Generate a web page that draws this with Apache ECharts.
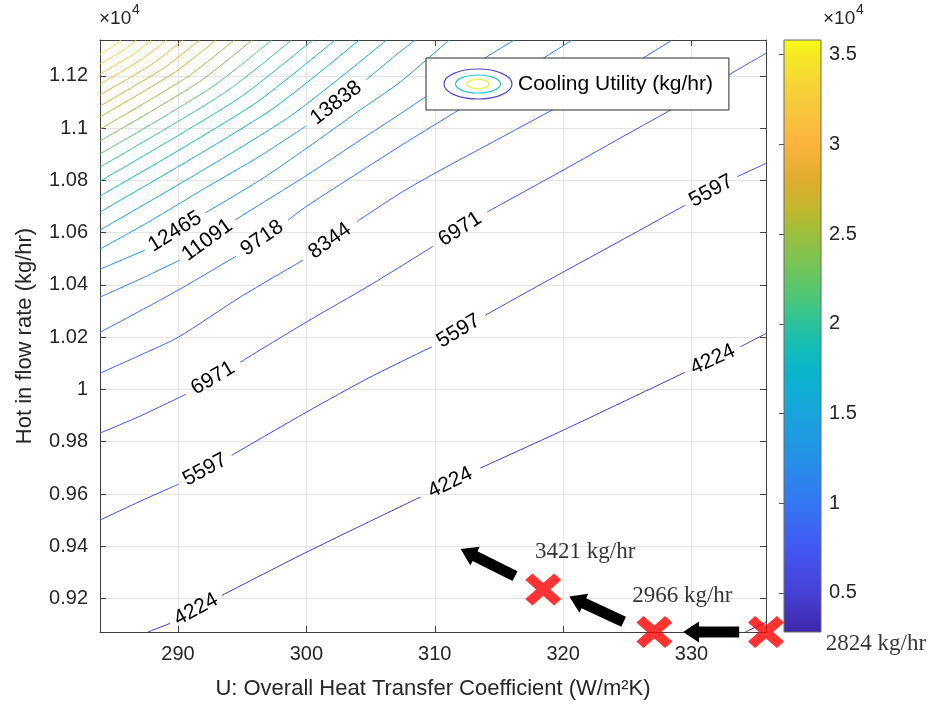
<!DOCTYPE html>
<html>
<head>
<meta charset="utf-8">
<script src="https://cdn.jsdelivr.net/npm/echarts@6.0.0/dist/echarts.min.js"></script>
<style>
html,body{margin:0;padding:0;background:#ffffff;}
#chart{width:930px;height:712px;}
</style>
</head>
<body>
<div id="chart"></div>
<script>
// ---------------- data ----------------
const uRange = [283.92, 335.8];          // U axis extent (W/m2K)
const flowRange = [9072, 11337];          // hot inlet flow extent (kg/hr)
const utilityRange = [2824, 35812];       // colour scale extent (kg/hr)

const xTickValues = [290, 300, 310, 320, 330];
const xTickLabels = ['290', '300', '310', '320', '330'];
const yTickValues = [9200, 9400, 9600, 9800, 10000, 10200, 10400, 10600, 10800, 11000, 11200];
const yTickLabels = ['0.92', '0.94', '0.96', '0.98', '1', '1.02', '1.04', '1.06', '1.08', '1.1', '1.12'];
const cTickValues = [5000, 10000, 15000, 20000, 25000, 30000, 35000];
const cTickLabels = ['0.5', '1', '1.5', '2', '2.5', '3', '3.5'];

const levels = [2851, 4224, 5597, 6971, 8344, 9718, 11091, 12465, 13838, 15212, 16585, 17959,
  19332, 20706, 22079, 23453, 24826, 26200, 27573, 28947, 30320, 31694, 33067, 34441];

// contour lines as [U, flow] points; null = gap where the inline label sits
const line00 = [[334.19, 9072], [335.8, 9109]];
const line01 = [[287.66, 9072], [289.38, 9105], null, [293.41, 9212], [300.03, 9378], [308.86, 9588], null,
  [313.54, 9699], [320.0, 9844], [329.51, 10066], null, [333.8, 10163], [335.8, 10214]];
const line02 = [[283.92, 9500], [287.04, 9572], [290.02, 9637], null, [294.18, 9748], [300.03, 9914], [304.96, 10047],
  [309.77, 10163], null, [313.93, 10284], [318.84, 10418], [323.13, 10533], [329.51, 10705], null, [333.54, 10814], [335.8, 10865]];
const line03 = [[283.92, 9833], [287.04, 9898], [290.62, 9982], null, [294.83, 10104], [300.03, 10259], [304.96, 10399],
  [309.87, 10548], null, [314.08, 10679], [320.0, 10839], [324.45, 10962], [328.35, 11069], [333.54, 11222], [335.8, 11286]];
const line04 = [[283.92, 10062], [287.04, 10131], [290.02, 10200], [294.83, 10353], [299.74, 10495], null,
  [303.93, 10642], [307.30, 10751], [310.03, 10828], [315.10, 10962], [320.0, 11092], [324.45, 11215], [328.5, 11337]];
const line05 = [[283.92, 10219], [285.71, 10265], [290.15, 10384], [294.52, 10510], null, [298.57, 10648],
  [300.05, 10702], [307.30, 10931], [312.76, 11096], [318.21, 11260], [320.71, 11337]];
const line06 = [[283.92, 10353], [287.04, 10422], [290.15, 10495], null, [294.42, 10648], [300.05, 10820],
  [304.18, 10954], [307.30, 11054], [310.42, 11157], [313.54, 11257], [316.19, 11337]];
const line07 = [[283.92, 10460], [287.43, 10533], null, [292.10, 10675], [296.39, 10801], [300.05, 10924],
  [304.18, 11069], [307.30, 11176], [311.12, 11337]];
const line08 = [[283.92, 10537], [287.82, 10644], [292.10, 10770], [296.39, 10893], [299.97, 11008], null,
  [304.65, 11184], [306.68, 11268], [308.47, 11337]];
const line09 = [[283.92, 10610], [291.36, 10822], [298.52, 11038], [302.76, 11198], [306.24, 11337]];
const line10 = [[283.92, 10679], [290.65, 10871], [297.14, 11066], [300.98, 11211], [304.12, 11337]];
const line11 = [[283.92, 10740], [290.02, 10914], [295.90, 11091], [299.39, 11223], [302.23, 11337]];
const line12 = [[283.92, 10797], [289.44, 10955], [294.76, 11115], [297.91, 11234], [300.49, 11337]];
const line13 = [[283.92, 10851], [288.89, 10993], [293.68, 11137], [296.52, 11244], [298.85, 11337]];
const line14 = [[283.92, 10901], [288.38, 11028], [292.67, 11158], [295.22, 11254], [297.30, 11337]];
const line15 = [[283.92, 10951], [287.87, 11063], [291.68, 11178], [293.93, 11263], [295.78, 11337]];
const line16 = [[283.92, 10996], [287.40, 11096], [290.76, 11197], [292.75, 11272], [294.38, 11337]];
const line17 = [[283.92, 11043], [286.93, 11129], [289.83, 11216], [291.55, 11281], [292.95, 11337]];
const line18 = [[283.92, 11084], [286.50, 11158], [288.99, 11233], [290.47, 11289], [291.68, 11337]];
const line19 = [[283.92, 11127], [286.07, 11188], [288.14, 11250], [289.37, 11297], [290.38, 11337]];
const line20 = [[283.92, 11168], [285.65, 11218], [287.31, 11268], [288.29, 11305], [289.10, 11337]];
const line21 = [[283.92, 11207], [285.25, 11245], [286.54, 11283], [287.30, 11312], [287.92, 11337]];
const line22 = [[283.92, 11245], [284.86, 11272], [285.77, 11299], [286.30, 11319], [286.74, 11337]];
const line23 = [[283.92, 11283], [284.47, 11299], [285.00, 11315], [285.31, 11327], [285.56, 11337]];
const contours = [line00, line01, line02, line03, line04, line05, line06, line07, line08, line09, line10, line11,
  line12, line13, line14, line15, line16, line17, line18, line19, line20, line21, line22, line23];

const markerU = [318.45, 327.1, 335.8];
const markerFlow = [9235, 9072, 9072];
const markerText = ['3421 kg/hr', '2966 kg/hr', '2824 kg/hr'];

const arrowFromU = [333.71, 324.71, 316.25];
const arrowFromFlow = [9072, 9111, 9286];
const arrowToU = [329.34, 320.48, 312.02];
const arrowToFlow = [9072, 9208, 9390];

// ---------------- styles ----------------
const legendName = 'Cooling Utility (kg/hr)';
const SANS = "'Liberation Sans', Arial, Helvetica, sans-serif";
const SERIF = "'Liberation Serif', 'Times New Roman', serif";
const AXIS_COLOR = '#404040';
const TEXT_COLOR = '#262626';
const markerLabelOffsets = [[42, -37], [28, -36], [110, 12]];

const parula = [
  [0.000, '#3e26a8'], [0.066, '#4640d6'], [0.145, '#4259f3'], [0.218, '#3377f3'],
  [0.290, '#2590e8'], [0.369, '#19a4dc'], [0.439, '#09b4cb'], [0.475, '#12bcbc'],
  [0.521, '#2ac39b'], [0.560, '#48c77b'], [0.612, '#70c55a'], [0.672, '#9dbf3c'],
  [0.712, '#c0b82d'], [0.763, '#e0ac2d'], [0.824, '#fcb53d'], [0.897, '#f7ca3c'],
  [0.969, '#f5e628'], [1.000, '#f9fb14']
];
function hexToRgb(h) { return [parseInt(h.slice(1, 3), 16), parseInt(h.slice(3, 5), 16), parseInt(h.slice(5, 7), 16)]; }
function parulaAt(t) {
  t = Math.max(0, Math.min(1, t));
  for (let i = 1; i < parula.length; i++) {
    if (t <= parula[i][0]) {
      const t0 = parula[i - 1][0], t1 = parula[i][0];
      const a = hexToRgb(parula[i - 1][1]), b = hexToRgb(parula[i][1]);
      const f = (t - t0) / (t1 - t0);
      return 'rgb(' + a.map((v, k) => Math.round(v + (b[k] - v) * f)).join(',') + ')';
    }
  }
  return parula[parula.length - 1][1];
}
function levelColor(v) { return parulaAt((v - utilityRange[0]) / (utilityRange[1] - utilityRange[0])); }
function lookup(values, labels) {
  return function (v) { const i = values.indexOf(Math.round(v)); return i < 0 ? '' : labels[i]; };
}

const legendIcon = 'image://data:image/svg+xml;charset=utf-8,' + encodeURIComponent(
  "<svg xmlns='http://www.w3.org/2000/svg' width='70' height='32' viewBox='0 0 70 32'>" +
  "<ellipse cx='35' cy='16' rx='34' ry='15' fill='none' stroke='#5a48c4' stroke-width='1.2'/>" +
  "<ellipse cx='35' cy='16' rx='22.5' ry='9' fill='none' stroke='#2ec4c4' stroke-width='1.2'/>" +
  "<ellipse cx='35' cy='16' rx='11' ry='4.5' fill='none' stroke='#eeee22' stroke-width='1.2'/>" +
  "</svg>");

const xPath = 'path://M0,2 L2,0 L5,3 L8,0 L10,2 L7,5 L10,8 L8,10 L5,7 L2,10 L0,8 L3,5 Z';

// ---------------- series ----------------
const series = [];
contours.forEach(function (pts, i) {
  const col = levelColor(levels[i]);
  series.push({
    type: 'line', name: legendName, xAxisIndex: 0, yAxisIndex: 0,
    data: pts.map(p => (p ? p : ['-', '-'])),
    showSymbol: false, symbol: 'none', smooth: 0.25, connectNulls: false,
    lineStyle: { color: col, width: 1 }, itemStyle: { color: col },
    silent: true, z: 2, animation: false
  });
});
series.push({
  id: 'clabels', type: 'scatter', xAxisIndex: 0, yAxisIndex: 0, data: [],
  symbolSize: 0, itemStyle: { color: '#000000' }, silent: true, z: 3,
  label: { show: true, position: 'inside', formatter: '{b}', fontFamily: SANS, fontSize: 21,
    color: '#000000', opacity: 1, textBorderWidth: 0, textBorderColor: 'transparent' }
});
series.push({
  type: 'custom', xAxisIndex: 0, yAxisIndex: 0, clip: false, silent: true, z: 5,
  data: arrowFromU.map((u, i) => [u, arrowFromFlow[i], arrowToU[i], arrowToFlow[i]]),
  encode: { x: [0, 2], y: [1, 3] },
  renderItem: function (params, api) {
    const t = api.coord([api.value(0), api.value(1)]);
    const h = api.coord([api.value(2), api.value(3)]);
    const dx = h[0] - t[0], dy = h[1] - t[1], L = Math.hypot(dx, dy);
    const ux = dx / L, uy = dy / L, nx = -uy, ny = ux;
    const sw = 5.5, hw = 10.5, hl = 16;
    const bx = h[0] - ux * hl, by = h[1] - uy * hl;
    return {
      type: 'polygon',
      shape: { points: [
        [t[0] + nx * sw, t[1] + ny * sw], [bx + nx * sw, by + ny * sw], [bx + nx * hw, by + ny * hw],
        [h[0], h[1]], [bx - nx * hw, by - ny * hw], [bx - nx * sw, by - ny * sw], [t[0] - nx * sw, t[1] - ny * sw]
      ] },
      style: { fill: '#000000' }
    };
  }
});
series.push({
  type: 'scatter', xAxisIndex: 0, yAxisIndex: 0, clip: false, silent: true, z: 6,
  symbol: xPath, symbolSize: [36, 32], itemStyle: { color: '#fe0000' },
  data: markerU.map((u, i) => ({ value: [u, markerFlow[i]], name: markerText[i], label: { offset: markerLabelOffsets[i] } })),
  label: { show: true, position: 'inside', formatter: '{b}', fontFamily: SERIF, fontSize: 23, color: '#000',
    textBorderWidth: 0, textBorderColor: 'transparent' }
});
series.push({
  type: 'custom', xAxisIndex: 2, yAxisIndex: 2, silent: true, z: 2,
  data: [[0, utilityRange[0], 1, utilityRange[1]]],
  encode: { x: [0, 2], y: [1, 3] },
  renderItem: function (params, api) {
    const a = api.coord([api.value(0), api.value(3)]);
    const b = api.coord([api.value(2), api.value(1)]);
    const stops = parula.map(s => ({ offset: 1 - s[0], color: s[1] })).reverse();
    return {
      type: 'rect',
      shape: { x: a[0], y: a[1], width: b[0] - a[0], height: b[1] - a[1] },
      style: { fill: new echarts.graphic.LinearGradient(0, 0, 0, 1, stops), stroke: '#6b6b6b', lineWidth: 1 }
    };
  }
});

const axisLineStyle = { color: AXIS_COLOR, width: 1 };
const option = {
  animation: false,
  backgroundColor: '#ffffff',
  grid: [
    { left: 100, top: 40, width: 666, height: 592, containLabel: false, outerBoundsMode: 'none' },
    { left: 784, top: 40, width: 37, height: 592, containLabel: false, outerBoundsMode: 'none' }
  ],
  legend: {
    show: true, left: 426, top: 58, orient: 'horizontal', selectedMode: false,
    padding: [10, 16, 10, 17], itemWidth: 70, itemHeight: 32,
    backgroundColor: '#ffffff', borderColor: '#2b2b2b', borderWidth: 1,
    textStyle: { fontFamily: SANS, fontSize: 21, color: '#000' },
    data: [{ name: legendName, icon: legendIcon }]
  },
  xAxis: [
    {
      type: 'value', gridIndex: 0, min: uRange[0], max: uRange[1], minInterval: 10, maxInterval: 10, splitNumber: 5,
      position: 'bottom',
      axisLine: { show: true, onZero: false, lineStyle: axisLineStyle },
      axisTick: { show: true, inside: true, length: 6, lineStyle: axisLineStyle },
      axisLabel: { show: true, margin: 12, fontFamily: SANS, fontSize: 20, color: TEXT_COLOR,
        formatter: lookup(xTickValues, xTickLabels), showMinLabel: false, showMaxLabel: false },
      splitLine: { show: true, lineStyle: { color: '#e4e4e4', width: 1 } },
      name: 'U: Overall Heat Transfer Coefficient (W/m²K)', nameLocation: 'middle', nameGap: 46,
      nameTextStyle: { fontFamily: SANS, fontSize: 22, color: TEXT_COLOR }
    },
    {
      type: 'value', gridIndex: 0, min: uRange[0], max: uRange[1], minInterval: 10, maxInterval: 10, splitNumber: 5,
      position: 'top',
      axisLine: { show: true, onZero: false, lineStyle: axisLineStyle },
      axisTick: { show: true, inside: true, length: 6, lineStyle: axisLineStyle },
      axisLabel: { show: false }, splitLine: { show: false }
    },
    { type: 'value', gridIndex: 1, min: 0, max: 1, show: false }
  ],
  yAxis: [
    {
      type: 'value', gridIndex: 0, min: flowRange[0], max: flowRange[1], minInterval: 200, maxInterval: 200, splitNumber: 11,
      position: 'left',
      axisLine: { show: true, onZero: false, lineStyle: axisLineStyle },
      axisTick: { show: true, inside: true, length: 6, lineStyle: axisLineStyle },
      axisLabel: { show: true, margin: 12, fontFamily: SANS, fontSize: 20, color: TEXT_COLOR,
        formatter: lookup(yTickValues, yTickLabels), showMinLabel: false, showMaxLabel: false },
      splitLine: { show: true, lineStyle: { color: '#e4e4e4', width: 1 } },
      name: 'Hot in flow rate (kg/hr)', nameLocation: 'middle', nameGap: 64,
      nameTextStyle: { fontFamily: SANS, fontSize: 22, color: TEXT_COLOR }
    },
    {
      type: 'value', gridIndex: 0, min: flowRange[0], max: flowRange[1], minInterval: 200, maxInterval: 200, splitNumber: 11,
      position: 'right',
      axisLine: { show: true, onZero: false, lineStyle: axisLineStyle },
      axisTick: { show: true, inside: true, length: 6, lineStyle: axisLineStyle },
      axisLabel: { show: false }, splitLine: { show: false }
    },
    {
      type: 'value', gridIndex: 1, min: utilityRange[0], max: utilityRange[1], minInterval: 5000, maxInterval: 5000, splitNumber: 7,
      position: 'right',
      axisLine: { show: false },
      axisTick: { show: true, inside: true, length: 5, lineStyle: { color: '#555', width: 1 } },
      axisLabel: { show: true, margin: 8, fontFamily: SANS, fontSize: 20, color: TEXT_COLOR,
        formatter: lookup(cTickValues, cTickLabels), showMinLabel: false, showMaxLabel: false },
      splitLine: { show: false }
    }
  ],
  graphic: [
    { type: 'text', left: 99, top: 9, z: 10, style: { text: '×10', font: '19px ' + SANS, fill: TEXT_COLOR } },
    { type: 'text', left: 132, top: 3, z: 10, style: { text: '4', font: '14px ' + SANS, fill: TEXT_COLOR } },
    { type: 'text', left: 823, top: 9, z: 10, style: { text: '×10', font: '19px ' + SANS, fill: TEXT_COLOR } },
    { type: 'text', left: 856, top: 3, z: 10, style: { text: '4', font: '14px ' + SANS, fill: TEXT_COLOR } }
  ],
  series: series
};

const chart = echarts.init(document.getElementById('chart'), null, { renderer: 'canvas', width: 930, height: 712 });
chart.setOption(option);

// inline contour labels, centred in each line gap and rotated along it
const labelData = [];
contours.forEach(function (pts, i) {
  for (let k = 1; k < pts.length - 1; k++) {
    if (pts[k] === null) {
      const p = pts[k - 1], q = pts[k + 1];
      const a = chart.convertToPixel({ xAxisIndex: 0, yAxisIndex: 0 }, p);
      const b = chart.convertToPixel({ xAxisIndex: 0, yAxisIndex: 0 }, q);
      const ang = Math.atan2(a[1] - b[1], b[0] - a[0]) * 180 / Math.PI;
      labelData.push({ value: [(p[0] + q[0]) / 2, (p[1] + q[1]) / 2], name: String(levels[i]), label: { rotate: ang } });
    }
  }
});
chart.setOption({ series: [{ id: 'clabels', data: labelData }] });
</script>
</body>
</html>
